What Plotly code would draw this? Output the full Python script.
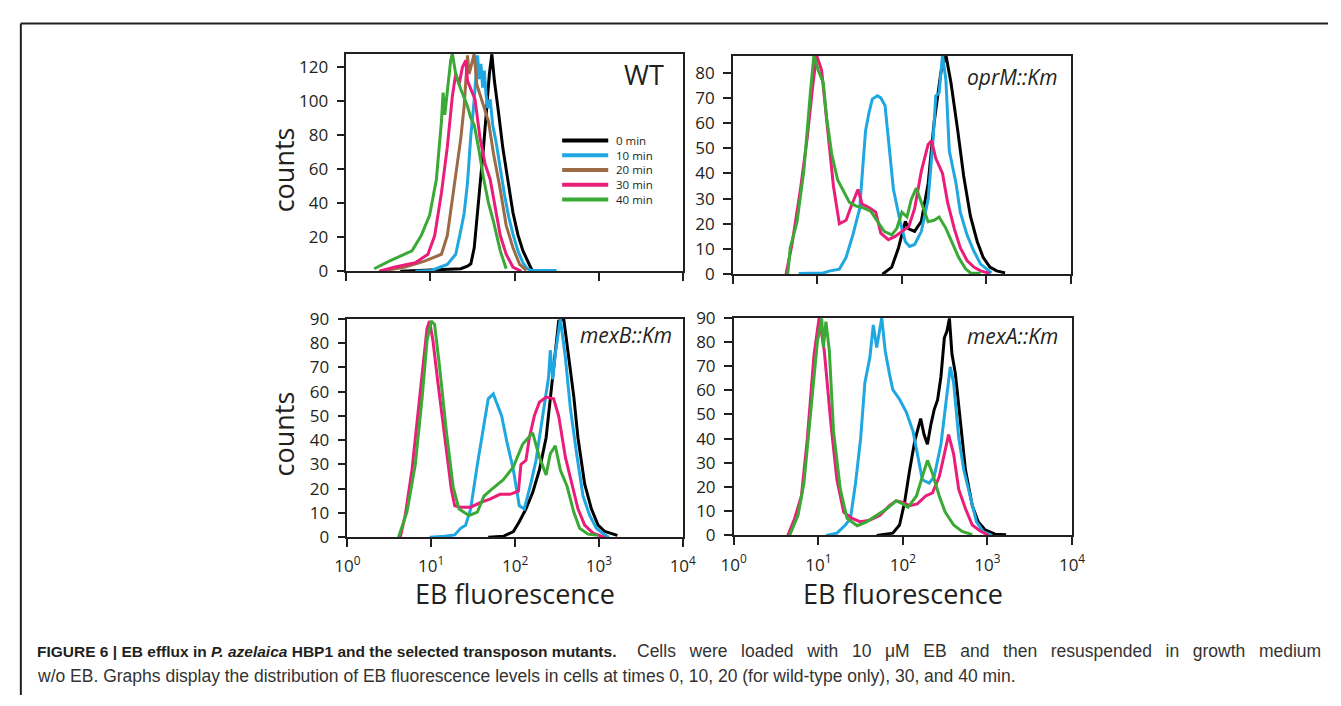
import plotly.graph_objects as go

# ---------------- data (x = log10 of EB fluorescence, y = counts) ----------------
TIMES = ["0 min", "10 min", "20 min", "30 min", "40 min"]
PANELS = ["WT", "oprM::Km", "mexB::Km", "mexA::Km"]
X_TICK_EXPONENTS = [0, 1, 2, 3, 4]
X_TICK_LABELS = ["10<sup>0</sup>", "10<sup>1</sup>", "10<sup>2</sup>", "10<sup>3</sup>", "10<sup>4</sup>"]

# WT
WT_0_X = [0.64, 1.36, 1.44, 1.48, 1.52, 1.55, 1.59, 1.63, 1.67, 1.70, 1.73, 1.76, 1.81, 1.86, 1.92, 1.98, 2.04, 2.10, 2.18, 2.21]
WT_0_Y = [0, 1.5, 3, 4.4, 13.8, 29, 50, 72.6, 97, 116, 127.6, 112, 93, 72.6, 53.6, 34.7, 21.4, 12, 3.4, 0.5]
WT_10_X = [0.82, 1.01, 1.20, 1.30, 1.36, 1.40, 1.44, 1.48, 1.52, 1.55, 1.56, 1.58, 1.60, 1.62, 1.64, 1.66, 1.68, 1.71, 1.74, 1.78, 1.83, 1.88, 1.93, 1.98, 2.04, 2.10, 2.15, 2.20, 2.50]
WT_10_Y = [0, 0.5, 4, 10, 24, 34, 52, 80, 101, 124, 127, 113, 122, 108, 118, 104, 96, 101, 86, 76, 60, 45, 32, 22, 12, 5, 1.5, 0.5, 0.5]
WT_20_X = [0.41, 0.70, 0.93, 1.13, 1.20, 1.28, 1.36, 1.40, 1.44, 1.46, 1.48, 1.50, 1.52, 1.55, 1.59, 1.63, 1.69, 1.75, 1.83, 1.90, 1.98, 2.06, 2.14]
WT_20_Y = [0, 2.5, 6, 10, 21, 48, 78, 97, 127, 116, 120, 124, 128, 110, 104, 97, 88, 69, 48, 27, 14, 4, 0.5]
WT_30_X = [0.39, 0.58, 0.82, 0.97, 1.05, 1.13, 1.20, 1.26, 1.30, 1.34, 1.38, 1.42, 1.44, 1.48, 1.53, 1.59, 1.65, 1.71, 1.77, 1.83, 1.90, 1.98, 2.08]
WT_30_Y = [0, 2.5, 5, 10, 21, 46, 73, 103, 116, 110, 120, 124, 112, 107, 101, 78, 63, 54, 37, 21, 10, 2.5, 0]
WT_40_X = [0.33, 0.51, 0.78, 0.89, 0.99, 1.07, 1.13, 1.15, 1.17, 1.20, 1.24, 1.26, 1.30, 1.36, 1.44, 1.48, 1.52, 1.57, 1.63, 1.69, 1.75, 1.83, 1.90]
WT_40_Y = [1.5, 6, 12, 21, 33, 54, 88, 105, 92, 107, 124, 128, 116, 107, 97, 90, 86, 73, 55, 40, 29, 12, 1.5]

# oprM::Km
OPRM_0_X = [1.77, 1.88, 1.96, 2.04, 2.08, 2.15, 2.23, 2.31, 2.38, 2.46, 2.52, 2.58, 2.66, 2.73, 2.81, 2.89, 2.96, 3.04, 3.12, 3.22]
OPRM_0_Y = [0, 2.8, 10.5, 21, 18, 17, 21, 36, 60, 80, 87, 76, 57, 39, 23, 13, 6.7, 2.8, 1.3, 0.5]
OPRM_10_X = [0.78, 1.07, 1.15, 1.26, 1.34, 1.42, 1.50, 1.53, 1.57, 1.61, 1.65, 1.71, 1.75, 1.80, 1.84, 1.90, 1.98, 2.04, 2.09, 2.15, 2.23, 2.31, 2.37, 2.40, 2.44, 2.48, 2.52, 2.56, 2.64, 2.69, 2.77, 2.85, 2.93, 3.00, 3.06]
OPRM_10_Y = [0.3, 0.5, 1.3, 2, 6.7, 15.6, 26, 41, 57, 64, 69.5, 70.8, 70, 67, 54, 33.6, 20.8, 13, 11, 11.8, 17, 29.7, 54, 70.8, 72, 87, 77, 49, 36, 24.6, 15.6, 9.2, 4, 2.2, 0.5]
OPRM_30_X = [0.63, 0.70, 0.80, 0.88, 0.94, 0.99, 1.05, 1.11, 1.19, 1.26, 1.34, 1.40, 1.48, 1.53, 1.61, 1.69, 1.75, 1.84, 1.92, 2.00, 2.08, 2.15, 2.23, 2.31, 2.35, 2.40, 2.48, 2.54, 2.62, 2.69, 2.77, 2.85, 2.93, 3.04]
OPRM_30_Y = [0, 11.8, 33.6, 54, 73, 87, 81, 60.5, 35, 20, 21.4, 27, 33.6, 27.8, 26.5, 24.6, 16.3, 13.7, 15, 17, 18.8, 26, 41, 51.5, 53, 46, 40, 28.5, 18, 10.5, 5.4, 2.8, 1.3, 0.3]
OPRM_40_X = [0.65, 0.68, 0.76, 0.84, 0.92, 0.96, 1.01, 1.07, 1.11, 1.17, 1.24, 1.30, 1.38, 1.46, 1.53, 1.63, 1.71, 1.79, 1.88, 1.94, 2.00, 2.06, 2.11, 2.17, 2.23, 2.31, 2.38, 2.44, 2.52, 2.60, 2.67, 2.75, 2.81, 2.93]
OPRM_40_Y = [0, 10.5, 20.8, 41, 73, 87, 81, 76, 62, 47.7, 37.4, 33.6, 28.5, 27, 26.5, 25, 20.8, 17, 15.6, 18.2, 24.6, 22.7, 29.7, 34.2, 28.5, 20.8, 21.4, 22.7, 18.2, 11.8, 6.7, 2.2, 0.5, 0.3]

# mexB::Km
MEXB_0_X = [1.68, 1.86, 1.98, 2.05, 2.13, 2.21, 2.29, 2.37, 2.42, 2.48, 2.52, 2.58, 2.64, 2.70, 2.75, 2.83, 2.91, 2.99, 3.07, 3.22]
MEXB_0_Y = [0, 0.4, 2.4, 6.4, 11.7, 18.4, 27.7, 41, 57, 75.6, 89, 90, 74, 58, 41, 22, 11.7, 5, 2.4, 0.8]
MEXB_10_X = [0.98, 1.16, 1.28, 1.35, 1.41, 1.47, 1.55, 1.63, 1.68, 1.74, 1.78, 1.84, 1.90, 1.98, 2.05, 2.11, 2.19, 2.25, 2.33, 2.40, 2.42, 2.45, 2.48, 2.54, 2.60, 2.66, 2.74, 2.81, 2.89, 2.97, 3.07, 3.12]
MEXB_10_Y = [0, 0.4, 1, 3.7, 5, 11.7, 30, 46, 57, 59, 55.6, 50, 39.7, 27.7, 13, 11.7, 22.4, 31.7, 50, 66, 77, 65, 75.6, 90, 74, 53, 33, 17, 9, 3.7, 1, 0]
MEXB_30_X = [0.63, 0.69, 0.77, 0.87, 0.95, 0.98, 1.02, 1.08, 1.16, 1.24, 1.28, 1.35, 1.47, 1.59, 1.70, 1.82, 1.94, 2.04, 2.07, 2.13, 2.17, 2.23, 2.29, 2.37, 2.46, 2.52, 2.60, 2.68, 2.75, 2.83, 2.93, 3.07]
MEXB_30_Y = [0, 9, 27.7, 61, 86, 89, 81, 63.6, 41, 19.7, 13, 12.4, 12.4, 14.4, 15.7, 17.7, 17.7, 19, 30, 31.7, 41, 50, 55.6, 57.7, 57, 50, 33, 21, 11.7, 5, 1.7, 0]
MEXB_40_X = [0.61, 0.71, 0.81, 0.89, 0.95, 1.00, 1.04, 1.10, 1.18, 1.26, 1.33, 1.45, 1.55, 1.63, 1.72, 1.86, 1.98, 2.09, 2.21, 2.29, 2.37, 2.42, 2.48, 2.54, 2.62, 2.70, 2.77, 2.87, 2.99]
MEXB_40_Y = [0, 10.4, 30, 57, 81, 89, 87.6, 70, 43.7, 21, 11.7, 9, 10.4, 17, 19.7, 23.7, 29, 38.3, 43, 33, 25.7, 34.4, 37.7, 27.7, 21, 10.4, 3.7, 1.3, 0.8]

# mexA::Km
MEXA_0_X = [1.69, 1.88, 1.96, 2.02, 2.08, 2.14, 2.17, 2.21, 2.25, 2.29, 2.33, 2.37, 2.41, 2.45, 2.49, 2.52, 2.55, 2.58, 2.62, 2.68, 2.74, 2.82, 2.89, 2.97, 3.09, 3.22]
MEXA_0_Y = [0, 0.9, 4.3, 13.6, 27, 39, 43, 48.3, 41.7, 37.7, 45.7, 52, 56, 65.7, 81.7, 84.4, 89.7, 75, 67, 45.7, 27, 12.3, 5.6, 2.3, 0.5, 0.3]
MEXA_10_X = [1.09, 1.22, 1.32, 1.38, 1.44, 1.50, 1.55, 1.61, 1.65, 1.69, 1.75, 1.79, 1.84, 1.88, 1.96, 2.04, 2.12, 2.17, 2.23, 2.31, 2.37, 2.45, 2.50, 2.56, 2.60, 2.66, 2.72, 2.80, 2.87, 2.95, 3.05]
MEXA_10_Y = [0, 0.9, 4.3, 7, 21.6, 40, 63, 73.7, 87, 77.7, 90, 76.4, 67, 60.3, 56.3, 51, 43, 33.6, 23, 21.6, 24.3, 37.7, 52, 69.7, 63, 40.3, 27, 15, 5.6, 1.6, 0]
MEXA_30_X = [0.64, 0.72, 0.80, 0.87, 0.95, 1.01, 1.07, 1.15, 1.22, 1.30, 1.40, 1.50, 1.61, 1.73, 1.84, 1.92, 2.00, 2.08, 2.17, 2.27, 2.35, 2.43, 2.49, 2.54, 2.60, 2.66, 2.74, 2.82, 2.91, 3.01]
MEXA_30_Y = [0, 7, 16.3, 40, 75, 90, 76.4, 45.7, 23, 9.6, 7, 5.6, 6.3, 8.3, 12.3, 14.3, 13.6, 12.3, 13, 16.3, 17.6, 24.3, 33.6, 41.7, 33.6, 19, 11, 4.3, 1.9, 0]
MEXA_40_X = [0.66, 0.76, 0.83, 0.91, 0.99, 1.04, 1.06, 1.09, 1.13, 1.18, 1.26, 1.34, 1.46, 1.57, 1.69, 1.81, 1.92, 2.00, 2.06, 2.16, 2.23, 2.29, 2.35, 2.43, 2.50, 2.60, 2.70, 2.82]
MEXA_40_Y = [0, 8.3, 21.6, 49.7, 80.4, 89.7, 77.7, 88.4, 76.4, 43, 19, 7, 4, 5.6, 8.3, 11, 14.3, 13, 11.6, 16.3, 24.3, 31, 25.6, 16.3, 9.6, 4.3, 1.6, 0.3]

Y_RANGES = {"WT": 128, "oprM::Km": 86.8, "mexB::Km": 90, "mexA::Km": 90}
Y_DTICK = {"WT": 20, "oprM::Km": 10, "mexB::Km": 10, "mexA::Km": 10}

SERIES = {
    "WT": {"0 min": (WT_0_X, WT_0_Y), "10 min": (WT_10_X, WT_10_Y), "20 min": (WT_20_X, WT_20_Y),
           "30 min": (WT_30_X, WT_30_Y), "40 min": (WT_40_X, WT_40_Y)},
    "oprM::Km": {"0 min": (OPRM_0_X, OPRM_0_Y), "10 min": (OPRM_10_X, OPRM_10_Y),
                 "30 min": (OPRM_30_X, OPRM_30_Y), "40 min": (OPRM_40_X, OPRM_40_Y)},
    "mexB::Km": {"0 min": (MEXB_0_X, MEXB_0_Y), "10 min": (MEXB_10_X, MEXB_10_Y),
                 "30 min": (MEXB_30_X, MEXB_30_Y), "40 min": (MEXB_40_X, MEXB_40_Y)},
    "mexA::Km": {"0 min": (MEXA_0_X, MEXA_0_Y), "10 min": (MEXA_10_X, MEXA_10_Y),
                 "30 min": (MEXA_30_X, MEXA_30_Y), "40 min": (MEXA_40_X, MEXA_40_Y)},
}

CAPTION_BOLD = "FIGURE 6 | EB efflux in <i>P. azelaica</i> HBP1 and the selected transposon mutants."
CAPTION_REST_1 = "Cells were loaded with 10 μM EB and then resuspended in growth medium"
CAPTION_LINE_2 = ("w/o EB. Graphs display the distribution of EB fluorescence levels in cells at times "
                  "0, 10, 20 (for wild-type only), 30, and 40 min.")

# ---------------- styling ----------------
W, H = 1341, 706
COLORS = {"0 min": "#000000", "10 min": "#1fa7e1", "20 min": "#9c6a45",
          "30 min": "#ea1d78", "40 min": "#3aa935"}
INK = "#231f20"
FONT = "Open Sans, Lato, sans-serif"
CAP_FONT = "Liberation Sans, Arial, sans-serif"


def px(x):
    return x / W


def py(y):
    return 1 - y / H


# pixel boxes (left, right, top, bottom) of each plot area
BOXES = {
    "WT": (340, 683, 43, 268),
    "oprM::Km": (734, 1079, 45, 271),
    "mexB::Km": (341, 683, 317, 543),
    "mexA::Km": (735, 1080, 316, 541),
}

fig = go.Figure()
for i, panel in enumerate(PANELS, start=1):
    xa = "x" if i == 1 else f"x{i}"
    ya = "y" if i == 1 else f"y{i}"
    for t in TIMES:
        if t not in SERIES[panel]:
            continue
        xs, ys = SERIES[panel][t]
        fig.add_trace(go.Scatter(x=xs, y=ys, mode="lines", name=t, xaxis=xa, yaxis=ya,
                                 line=dict(color=COLORS[t], width=3), showlegend=False,
                                 hoverinfo="skip"))
    l, r, t_, b = BOXES[panel]
    bottom_row = panel in ("mexB::Km", "mexA::Km")
    xkey = "xaxis" if i == 1 else f"xaxis{i}"
    ykey = "yaxis" if i == 1 else f"yaxis{i}"
    xdef = dict(domain=[px(l), px(r)], anchor=ya, range=[0, 4], tickmode="array",
                tickvals=X_TICK_EXPONENTS, showticklabels=bottom_row, ticks="outside",
                ticklen=8, tickwidth=1.5, tickcolor=INK, showline=True, linecolor=INK,
                linewidth=1.5, mirror=True, showgrid=False, zeroline=False,
                tickfont=dict(family=FONT, size=17, color=INK), fixedrange=True)
    if bottom_row:
        xdef.update(ticktext=X_TICK_LABELS, ticklabelstandoff=5)
    fig.update_layout(**{
        xkey: xdef,
        ykey: dict(domain=[py(b), py(t_)], anchor=xa, range=[0, Y_RANGES[panel]],
                   tick0=0, dtick=Y_DTICK[panel], ticks="outside", ticklen=8, tickwidth=1.5,
                   tickcolor=INK, showline=True, linecolor=INK, linewidth=1.5, mirror=True,
                   showgrid=False, zeroline=False, ticklabelstandoff=5,
                   tickfont=dict(family=FONT, size=17, color=INK), fixedrange=True),
    })

annotations = []
# panel labels
LABEL_POS = {"WT": (643, 65, False, 27), "oprM::Km": (1019, 67, True, 21),
             "mexB::Km": (625, 334, True, 21), "mexA::Km": (1019, 335, True, 21)}
for panel, (lx, ly, ital, size) in LABEL_POS.items():
    txt = f"<i>{panel}</i>" if ital else panel
    annotations.append(dict(x=px(lx), y=py(ly), xref="paper", yref="paper", text=txt,
                            showarrow=False, xanchor="center", yanchor="middle",
                            font=dict(family=FONT, size=size, color=INK)))
# y-axis titles
for cy in (163, 436):
    annotations.append(dict(x=px(276), y=py(cy), xref="paper", yref="paper", text="counts",
                            textangle=-90, showarrow=False, xanchor="center", yanchor="middle",
                            font=dict(family=FONT, size=27, color=INK)))
# x-axis titles
for cx in (511.5, 907.5):
    annotations.append(dict(x=px(cx), y=py(601), xref="paper", yref="paper",
                            text="EB fluorescence", showarrow=False, xanchor="center",
                            yanchor="middle", font=dict(family=FONT, size=27, color=INK)))

shapes = []
# legend (WT panel)
for k, t in enumerate(TIMES):
    yy = 132.7 + 15.3 * k
    shapes.append(dict(type="line", xref="paper", yref="paper", x0=px(560), x1=px(607),
                       y0=py(yy), y1=py(yy), line=dict(color=COLORS[t], width=4)))
    annotations.append(dict(x=px(613), y=py(yy), xref="paper", yref="paper", text=t,
                            showarrow=False, xanchor="left", yanchor="middle",
                            font=dict(family=FONT, size=11.5, color=INK)))

# outer frame (top and left rules)
shapes.append(dict(type="line", xref="paper", yref="paper", x0=px(8), x1=1.0, y0=py(12), y1=py(12),
                   line=dict(color=INK, width=2)))
shapes.append(dict(type="line", xref="paper", yref="paper", x0=px(8), x1=px(8), y0=py(12), y1=0,
                   line=dict(color=INK, width=2)))

# caption (first line is justified in the reference: slightly widened word gaps)
JUST_GAP = " \u2002"
annotations.append(dict(x=px(22), y=py(661), xref="paper", yref="paper", text=f"<b>{CAPTION_BOLD}</b>",
                        showarrow=False, xanchor="left", yanchor="middle", align="left",
                        font=dict(family=CAP_FONT, size=15.5, color=INK)))
annotations.append(dict(x=px(1336), y=py(661), xref="paper", yref="paper",
                        text=JUST_GAP.join(CAPTION_REST_1.split(" ")),
                        showarrow=False, xanchor="right", yanchor="middle", align="right",
                        font=dict(family=CAP_FONT, size=17.5, color="#333333")))
annotations.append(dict(x=px(22), y=py(686), xref="paper", yref="paper", text=CAPTION_LINE_2,
                        showarrow=False, xanchor="left", yanchor="middle", align="left",
                        font=dict(family=CAP_FONT, size=17.5, color="#333333")))

fig.update_layout(width=W, height=H, margin=dict(l=0, r=0, t=0, b=0),
                  paper_bgcolor="white", plot_bgcolor="white",
                  annotations=annotations, shapes=shapes, showlegend=False)

fig.write_html("out.html", config={"displayModeBar": False},
               post_script="document.body.style.margin='0';document.body.style.overflow='hidden';")
